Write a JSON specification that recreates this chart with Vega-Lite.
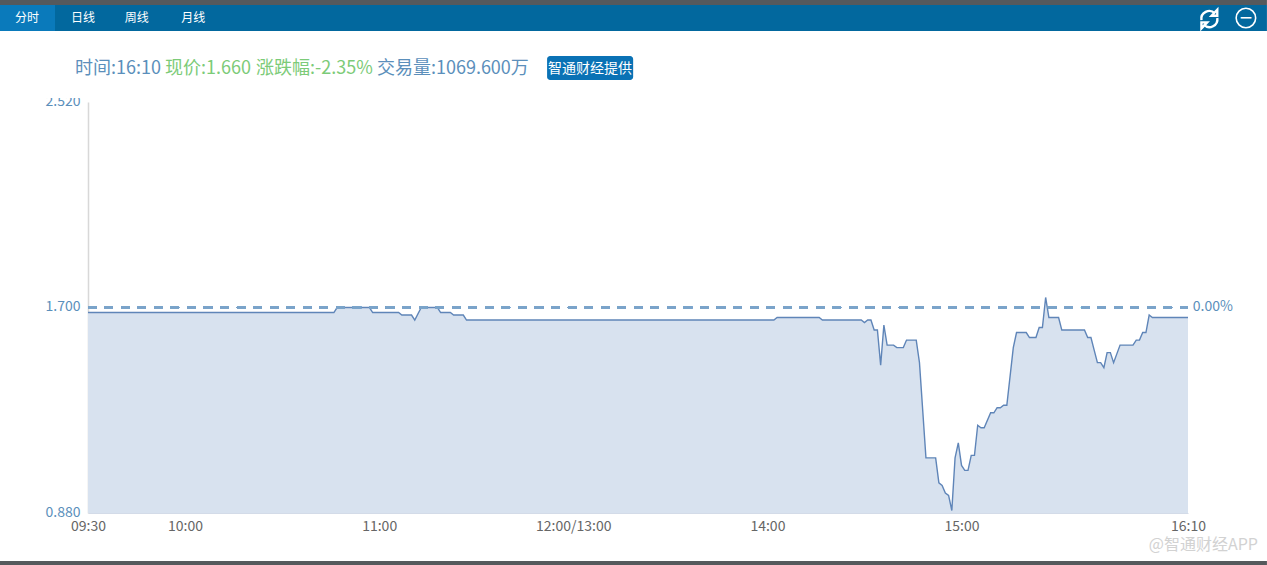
{"$schema":"https://vega.github.io/schema/vega-lite/v6.json","width":1100,"height":411,"autosize":"none","padding":{"left":88,"top":102,"right":79,"bottom":52},"background":"white","view":{"stroke":null},"config":{"font":"Noto Sans CJK SC"},
"datasets":{"prices":[{"minute":0,"price":1.68},{"minute":76,"price":1.68},{"minute":77,"price":1.7},{"minute":87,"price":1.7},{"minute":88,"price":1.68},{"minute":96,"price":1.68},{"minute":97,"price":1.67},{"minute":100,"price":1.67},{"minute":101,"price":1.65},{"minute":103,"price":1.7},{"minute":108,"price":1.7},{"minute":109,"price":1.68},{"minute":112,"price":1.68},{"minute":113,"price":1.67},{"minute":116,"price":1.67},{"minute":117,"price":1.65},{"minute":212,"price":1.65},{"minute":213,"price":1.66},{"minute":226,"price":1.66},{"minute":227,"price":1.65},{"minute":239,"price":1.65},{"minute":240,"price":1.64},{"minute":241,"price":1.65},{"minute":242,"price":1.65},{"minute":243,"price":1.61},{"minute":244,"price":1.61},{"minute":245,"price":1.47},{"minute":246,"price":1.63},{"minute":247,"price":1.55},{"minute":249,"price":1.55},{"minute":250,"price":1.54},{"minute":252,"price":1.54},{"minute":253,"price":1.57},{"minute":256,"price":1.57},{"minute":257,"price":1.48},{"minute":259,"price":1.1},{"minute":262,"price":1.1},{"minute":263,"price":1.0},{"minute":264,"price":0.99},{"minute":265,"price":0.96},{"minute":266,"price":0.95},{"minute":267,"price":0.89},{"minute":268,"price":1.1},{"minute":269,"price":1.16},{"minute":270,"price":1.07},{"minute":271,"price":1.05},{"minute":272,"price":1.05},{"minute":273,"price":1.11},{"minute":274,"price":1.11},{"minute":275,"price":1.23},{"minute":276,"price":1.22},{"minute":277,"price":1.22},{"minute":279,"price":1.28},{"minute":280,"price":1.28},{"minute":281,"price":1.3},{"minute":282,"price":1.3},{"minute":283,"price":1.31},{"minute":284,"price":1.31},{"minute":286,"price":1.54},{"minute":287,"price":1.6},{"minute":290,"price":1.6},{"minute":291,"price":1.58},{"minute":293,"price":1.58},{"minute":294,"price":1.62},{"minute":295,"price":1.62},{"minute":296,"price":1.74},{"minute":297,"price":1.66},{"minute":300,"price":1.66},{"minute":301,"price":1.61},{"minute":308,"price":1.61},{"minute":309,"price":1.58},{"minute":310,"price":1.58},{"minute":311,"price":1.53},{"minute":312,"price":1.48},{"minute":313,"price":1.48},{"minute":314,"price":1.46},{"minute":315,"price":1.52},{"minute":316,"price":1.52},{"minute":317,"price":1.48},{"minute":319,"price":1.55},{"minute":323,"price":1.55},{"minute":324,"price":1.57},{"minute":325,"price":1.57},{"minute":326,"price":1.6},{"minute":327,"price":1.6},{"minute":328,"price":1.67},{"minute":329,"price":1.66},{"minute":340,"price":1.66}]},
"data":{"name":"prices"},
"encoding":{"x":{"field":"minute","type":"quantitative","scale":{"domain":[0,340],"nice":false,"zero":false},"axis":{"title":null,"values":[0,30,90,150,210,270,340],"grid":false,"ticks":false,"domainColor":"#d3dbe8","domainWidth":1,"labelColor":"#666666","labelFontSize":14,"labelPadding":6,"labelFont":"Noto Sans CJK SC","labelOverlap":false,"labelBound":false,"labelFlush":false,"labelExpr":"datum.value==0?'09:30':datum.value==30?'10:00':datum.value==90?'11:00':datum.value==150?'12:00/13:00':datum.value==210?'14:00':datum.value==270?'15:00':'16:10'"}},
"y":{"field":"price","type":"quantitative","scale":{"domain":[0.88,2.52],"nice":false,"zero":false},"axis":{"title":null,"values":[0.88,1.7,2.52],"format":".3f","grid":false,"ticks":false,"domainColor":"#d8d8d8","domainWidth":1.5,"labelColor":"#5b8fbb","labelFontSize":14,"labelPadding":8,"labelOffset":-1,"labelFont":"Noto Sans CJK SC","labelOverlap":false,"labelBound":false}}},
"layer":[
{"mark":{"type":"area","color":"#d8e2ef","opacity":1},"encoding":{"y2":{"datum":0.88}}},
{"mark":{"type":"line","color":"#5f85b8","strokeWidth":1.4,"interpolate":"linear"}},
{"mark":{"type":"rule","color":"#7ba3c9","strokeWidth":1.8,"strokeDash":[8.3,8.25]},"encoding":{"x":{"datum":0},"x2":{"datum":340},"y":{"datum":1.7}}},
{"data":{"values":[{"label":"0.00%","minute":341.5,"price":1.703}]},"mark":{"type":"text","align":"left","baseline":"middle","color":"#5b8fbb","fontSize":14},"encoding":{"text":{"field":"label"}}},
{"data":{"values":[{"part":"label cover","minute":-14.8,"minute2":-0.6,"price":2.588,"price2":2.536}]},"mark":{"type":"rect","color":"white"},"encoding":{"x2":{"field":"minute2"},"y2":{"field":"price2"}}},
{"data":{"values":[{"part":"page top","minute":-27.2,"minute2":364.4,"price":2.93,"price2":2.907},{"part":"page bottom","minute":-27.2,"minute2":364.4,"price":0.6885,"price2":0.67}]},"mark":{"type":"rect","color":"#55595c"},"encoding":{"x2":{"field":"minute2"},"y2":{"field":"price2"}}},
{"data":{"values":[{"part":"toolbar","minute":-27.2,"minute2":364.4,"price":2.907,"price2":2.803}]},"mark":{"type":"rect","color":"#02689e"},"encoding":{"x2":{"field":"minute2"},"y2":{"field":"price2"}}},
{"data":{"values":[{"part":"active tab","minute":-27.2,"minute2":-10.2,"price":2.907,"price2":2.803}]},"mark":{"type":"rect","color":"#0a7abb"},"encoding":{"x2":{"field":"minute2"},"y2":{"field":"price2"}}},
{"data":{"values":[{"label":"分时","minute":-18.85,"price":2.855},{"label":"日线","minute":-1.55,"price":2.855},{"label":"周线","minute":15.1,"price":2.855},{"label":"月线","minute":32.5,"price":2.855}]},"mark":{"type":"text","color":"white","fontSize":12,"align":"center","baseline":"middle"},"encoding":{"text":{"field":"label"}}},
{"data":{"values":[{"label":"时间:16:10","minute":-4,"price":2.652,"group":"info"},{"label":"现价:1.660","minute":23.8,"price":2.652,"group":"change"},{"label":"涨跌幅:-2.35%","minute":51.9,"price":2.652,"group":"change"},{"label":"交易量:1069.600万","minute":89.3,"price":2.652,"group":"info"}]},"mark":{"type":"text","fontSize":18,"align":"left","baseline":"middle"},"encoding":{"text":{"field":"label"},"color":{"field":"group","type":"nominal","legend":null,"scale":{"domain":["info","change"],"range":["#5b8fbb","#7ccb78"]}}}},
{"data":{"values":[{"part":"badge","minute":141.9,"minute2":168.5,"price":2.7036,"price2":2.6078}]},"mark":{"type":"rect","color":"#0a72b5","cornerRadius":3},"encoding":{"x2":{"field":"minute2"},"y2":{"field":"price2"}}},
{"data":{"values":[{"label":"智通财经提供","minute":155.2,"price":2.652}]},"mark":{"type":"text","color":"white","fontSize":14,"align":"center","baseline":"middle"},"encoding":{"text":{"field":"label"}}},
{"data":{"values":[{"minute":346.6,"price":2.851}]},"mark":{"type":"point","shape":"M -0.72 0.1 A 0.72 0.72 0 0 1 0.5 -0.52 M 0.72 -0.1 A 0.72 0.72 0 0 1 -0.5 0.52 M 0.72 -0.85 L 0.72 -0.3 L 0.2 -0.3 Z M -0.72 0.85 L -0.72 0.3 L -0.2 0.3 Z","size":484,"color":"white","strokeWidth":2.4,"filled":false,"opacity":1}},
{"data":{"values":[{"minute":357.9,"price":2.855}]},"mark":{"type":"point","shape":"circle","size":380,"color":"white","strokeWidth":1.6,"filled":false,"opacity":1}},
{"data":{"values":[{"label":"−","minute":357.9,"price":2.855}]},"mark":{"type":"text","color":"white","fontSize":17,"font":"DejaVu Sans","align":"center","baseline":"middle"},"encoding":{"text":{"field":"label"}}},
{"data":{"values":[{"label":"@智通财经APP","minute":327.9,"price":0.752}]},"mark":{"type":"text","color":"#d2d2d2","fontSize":16,"align":"left","baseline":"middle"},"encoding":{"text":{"field":"label"}}}
]}
